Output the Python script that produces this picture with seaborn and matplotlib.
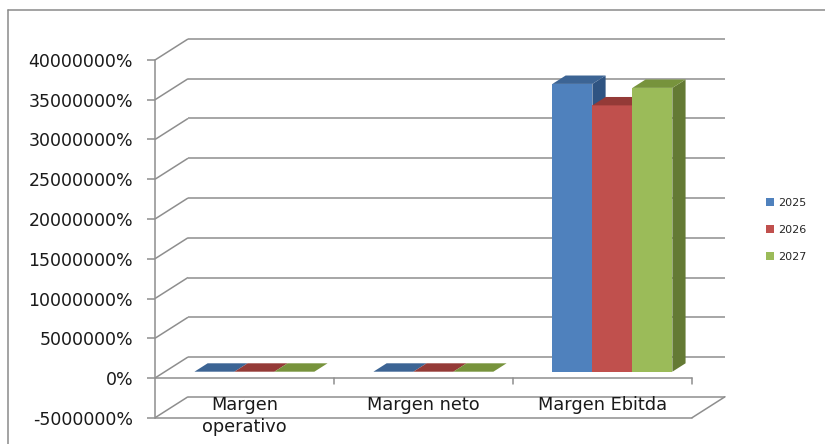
import matplotlib
matplotlib.use("Agg")
import matplotlib.pyplot as plt
from matplotlib.patches import Polygon, Patch
from matplotlib.lines import Line2D
import numpy as np
import pandas as pd
import seaborn as sns

# Margin indicators per year (values in percent)
categorias = ["Margen operativo", "Margen neto", "Margen Ebitda"]
etiquetas = ["Margen\noperativo", "Margen neto", "Margen Ebitda"]
anios = ["2025", "2026", "2027"]
valores_2025 = [0.0, 0.0, 36200000.0]
valores_2026 = [0.0, 0.0, 33500000.0]
valores_2027 = [0.0, 0.0, 35700000.0]
yticks = [-5000000, 0, 5000000, 10000000, 15000000, 20000000,
          25000000, 30000000, 35000000, 40000000]

frente = ["#4F81BD", "#C0504D", "#9BBB59"]
techo = ["#3C6494", "#943A37", "#77933C"]
lado = ["#2F5482", "#7E302E", "#647A34"]
gris = "#8E8E8E"

df = pd.DataFrame({
    "categoria": categorias * 3,
    "anio": [a for a in anios for _ in categorias],
    "valor": valores_2025 + valores_2026 + valores_2027,
})

sns.set_style("white")
plt.rcParams["font.family"] = ["DejaVu Sans"]

W, H = 825, 444
fig = plt.figure(figsize=(W / 100, H / 100), dpi=100)

# pixel layout of the plotting box
x_left, x_right = 155, 740
y_top, y_bot = 30, 425
px_cat = 179.0          # pixels per category
px_step = 39.75         # pixels per 5,000,000 %
y0_px = 378             # pixel row of the 0 % line
step = 5000000

ax = fig.add_axes([x_left / W, (H - y_bot) / H,
                   (x_right - x_left) / W, (y_bot - y_top) / H])

sns.barplot(data=df, x="categoria", y="valor", hue="anio",
            order=categorias, hue_order=anios, palette=frente,
            width=0.67, saturation=1, errorbar=None, legend=False,
            linewidth=0, ax=ax)

ax.set_xlim(-0.5, -0.5 + (x_right - x_left) / px_cat)
ax.set_ylim((y0_px - y_bot) / px_step * step, (y0_px - y_top) / px_step * step)

# depth of the 3-D box and of the bars, in data units
DX = 33 / px_cat
DY = 21 / px_step * step
f_front, f_depth = 0.3, 0.4
sx, sy = f_front * DX, f_front * DY
bx, by = f_depth * DX, f_depth * DY

for i, cont in enumerate(ax.containers):
    for bar in cont:
        bar.set_x(bar.get_x() + sx)
        bar.set_y(bar.get_y() + sy)
        bar.set_zorder(3 + i)
        x0 = bar.get_x()
        x1 = x0 + bar.get_width()
        yb = bar.get_y()
        yt = yb + bar.get_height()
        top = Polygon([(x0, yt), (x1, yt), (x1 + bx, yt + by), (x0 + bx, yt + by)],
                      closed=True, facecolor=techo[i], edgecolor="none", zorder=3 + i)
        side = Polygon([(x1, yb), (x1 + bx, yb + by), (x1 + bx, yt + by), (x1, yt)],
                       closed=True, facecolor=lado[i], edgecolor="none", zorder=3 + i)
        ax.add_patch(side)
        ax.add_patch(top)

# walls: side diagonals and back gridlines
lw = 1.1
xa, xb = -0.5, 2.5
for t in yticks:
    ax.plot([xa, xa + DX], [t, t + DY], color=gris, lw=lw, zorder=1, solid_capstyle="butt")
    ax.plot([xa + DX, xb + DX], [t + DY, t + DY], color=gris, lw=lw, zorder=1, solid_capstyle="butt")

# floor outline at the lowest level and category axis at 0
ymin = yticks[0]
ax.plot([xa, xb], [ymin, ymin], color=gris, lw=lw, zorder=2)
ax.plot([xb, xb + DX], [ymin, ymin + DY], color=gris, lw=lw, zorder=2)
ax.plot([xa, xb], [0, 0], color=gris, lw=lw, zorder=10)
tick_len = 6 / px_step * step
for xt in [0.5, 1.5, 2.5]:
    ax.plot([xt, xt], [0, -tick_len], color=gris, lw=lw, zorder=10)

# category labels
for i, lab in enumerate(etiquetas):
    ax.text(i, (y0_px - 396) / px_step * step, lab, ha="center", va="top",
            fontsize=12.8, color="#1a1a1a", linespacing=1.25, zorder=12)

# value axis
for s in ["top", "right", "bottom"]:
    ax.spines[s].set_visible(False)
ax.spines["left"].set_bounds(yticks[0], yticks[-1])
ax.spines["left"].set_color(gris)
ax.spines["left"].set_linewidth(lw)
ax.set_yticks(yticks)
ax.set_yticklabels([f"{v:.0f}%" for v in yticks])
ax.tick_params(axis="y", direction="out", length=5.8, width=lw, color=gris,
               pad=10, labelsize=12.5, labelcolor="#1a1a1a", left=True)
ax.set_xticks([])
ax.set_xlabel("")
ax.set_ylabel("")
ax.patch.set_alpha(0)

# legend
handles = [Patch(facecolor=c, edgecolor="none", label=a) for c, a in zip(frente, anios)]
fig.legend(handles=handles, loc="center left", bbox_to_anchor=(766 / W, 1 - 230 / H),
           frameon=False, fontsize=8, handlelength=0.75, handleheight=0.75,
           handletextpad=0.35, labelspacing=1.55, borderpad=0, borderaxespad=0)

# chart area border
fig.add_artist(Line2D([8 / W, 8 / W], [0, 1 - 10 / H], transform=fig.transFigure,
                      color="#8a8a8a", lw=1.1))
fig.add_artist(Line2D([8 / W, 1], [1 - 10 / H, 1 - 10 / H], transform=fig.transFigure,
                      color="#8a8a8a", lw=1.1))

fig.savefig("out.png", dpi=100)
